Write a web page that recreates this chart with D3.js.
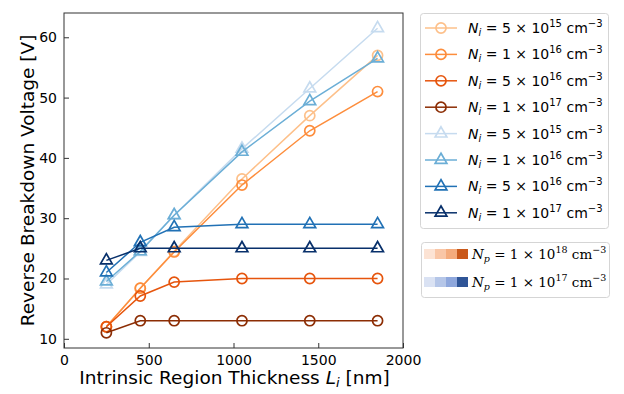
<!DOCTYPE html>
<html>
<head>
<meta charset="utf-8">
<script src="https://cdn.jsdelivr.net/npm/d3@7"></script>
<style>
  body { margin: 0; background: #fff; }
  svg { display: block; }
  .axis text { font-family: "DejaVu Sans", sans-serif; font-size: 14px; fill: #000; }
  .axis path, .axis line { stroke: #333; }
</style>
</head>
<body>
<script>
// data
var thickness = [250, 450, 650, 1050, 1450, 1850];
var niLabels = ["5", "1", "5", "1"];
var niExps = ["15", "16", "16", "17"];
var orangeSeries = [
  [12, 18.4, 24.5, 36.5, 47, 57],
  [12, 18.4, 24.4, 35.5, 44.5, 51],
  [12, 17.1, 19.4, 20, 20, 20],
  [11, 13, 13, 13, 13, 13]
];
var blueSeries = [
  [19, 24.4, 30.5, 41.5, 51.5, 61.5],
  [19.5, 24.5, 30.5, 41, 49.4, 56.5],
  [21, 26, 28.5, 29, 29, 29],
  [23, 25, 25, 25, 25, 25]
];
var orangeColors = ["#fdc08a", "#fd8d3c", "#e6550d", "#8c2d04"];
var blueColors = ["#c6dbef", "#6baed6", "#2171b5", "#08306b"];
var npPatchOrange = ["#fce3d4", "#f9c6a6", "#f4ab7c", "#c9581a"];
var npPatchBlue = ["#dae2f3", "#b5c6e8", "#8ea7dc", "#2f5597"];
var npExps = ["18", "17"];
var xTicks = [0, 500, 1000, 1500, 2000];
var yTicks = [10, 20, 30, 40, 50, 60];

var w = 624, h = 394;
var pLeft = 64, pTop = 13, pRight = 403, pBottom = 348;

var svg = d3.select("body").append("svg")
  .attr("width", w).attr("height", h);

var x = d3.scaleLinear().domain([0, 2000]).range([pLeft, pRight]);
var y = d3.scaleLinear().domain([8.475, 64.025]).range([pBottom, pTop]);

// axes, ticks inward
var xAxis = d3.axisBottom(x).tickValues(xTicks).tickFormat(d3.format("d"))
  .tickSize(-5).tickPadding(7).tickSizeOuter(0);
var yAxis = d3.axisLeft(y).tickValues(yTicks).tickFormat(d3.format("d"))
  .tickSize(-5).tickPadding(7).tickSizeOuter(0);

svg.append("g").attr("class", "axis")
  .attr("transform", "translate(0," + pBottom + ")")
  .call(xAxis)
  .call(function(g) { g.select(".domain").remove(); });
svg.append("g").attr("class", "axis")
  .attr("transform", "translate(" + pLeft + ",0)")
  .call(yAxis)
  .call(function(g) { g.select(".domain").remove(); });

svg.append("rect")
  .attr("x", pLeft).attr("y", pTop)
  .attr("width", pRight - pLeft).attr("height", pBottom - pTop)
  .attr("fill", "none").attr("stroke", "#333").attr("stroke-width", 1);

// axis labels
var xl = svg.append("text")
  .attr("x", (pLeft + pRight) / 2 + 1).attr("y", 384)
  .attr("text-anchor", "middle")
  .attr("font-family", "DejaVu Sans, sans-serif").attr("font-size", 18.5);
xl.append("tspan").text("Intrinsic Region Thickness ");
xl.append("tspan").attr("font-style", "italic").text("L");
xl.append("tspan").attr("font-style", "italic").attr("font-size", 13).attr("dy", 3).text("i");
xl.append("tspan").attr("dy", -3).text(" [nm]");

svg.append("text")
  .attr("transform", "translate(34," + ((pTop + pBottom) / 2) + ") rotate(-90)")
  .attr("text-anchor", "middle")
  .attr("font-family", "DejaVu Sans, sans-serif").attr("font-size", 18.5)
  .text("Reverse Breakdown Voltage [V]");

var line = d3.line()
  .x(function(d, i) { return x(thickness[i]); })
  .y(function(d) { return y(d); });

function drawSeries(vals, color, shape) {
  var g = svg.append("g");
  g.append("path").datum(vals)
    .attr("d", line)
    .attr("fill", "none").attr("stroke", color).attr("stroke-width", 1.5);
  g.selectAll(".m").data(vals).enter().append("path")
    .attr("transform", function(d, i) { return "translate(" + x(thickness[i]) + "," + y(d) + ")"; })
    .attr("d", d3.symbol().type(shape).size(shape === d3.symbolCircle ? 80 : 60))
    .attr("fill", "none").attr("stroke", color).attr("stroke-width", 1.7);
}

orangeSeries.forEach(function(s, i) { drawSeries(s, orangeColors[i], d3.symbolCircle); });
blueSeries.forEach(function(s, i) { drawSeries(s, blueColors[i], d3.symbolTriangle); });

// legend 1
var leg = svg.append("g");
leg.append("rect")
  .attr("x", 420.5).attr("y", 13.5).attr("width", 188).attr("height", 215)
  .attr("rx", 3).attr("fill", "#fff").attr("stroke", "#d5d5d5");

var entries = orangeColors.map(function(c, i) { return { c: c, s: d3.symbolCircle, k: i }; })
  .concat(blueColors.map(function(c, i) { return { c: c, s: d3.symbolTriangle, k: i }; }));

entries.forEach(function(e, i) {
  var cy = 28 + i * 26.4;
  leg.append("line")
    .attr("x1", 425).attr("x2", 457).attr("y1", cy).attr("y2", cy)
    .attr("stroke", e.c).attr("stroke-width", 1.5);
  leg.append("path")
    .attr("transform", "translate(441," + cy + ")")
    .attr("d", d3.symbol().type(e.s).size(e.s === d3.symbolCircle ? 80 : 60))
    .attr("fill", "none").attr("stroke", e.c).attr("stroke-width", 1.7);
  var t = leg.append("text")
    .attr("x", 468).attr("y", cy + 5)
    .attr("font-family", "DejaVu Sans, sans-serif").attr("font-size", 14);
  t.append("tspan").attr("font-style", "italic").text("N");
  t.append("tspan").attr("font-style", "italic").attr("font-size", 10).attr("dy", 3).text("i");
  t.append("tspan").attr("dy", -3).text(" = " + niLabels[e.k] + " \u00d7 10");
  t.append("tspan").attr("font-size", 10).attr("dy", -6).text(niExps[e.k]);
  t.append("tspan").attr("dy", 6).text(" cm");
  t.append("tspan").attr("font-size", 10).attr("dy", -6).text("\u22123");
});

// legend 2
var leg2 = svg.append("g");
leg2.append("rect")
  .attr("x", 421.5).attr("y", 242.5).attr("width", 188).attr("height", 55)
  .attr("rx", 3).attr("fill", "#fff").attr("stroke", "#d5d5d5");

[npPatchOrange, npPatchBlue].forEach(function(cols, r) {
  var cy = 254 + r * 28;
  leg2.selectAll(".p" + r).data(cols).enter().append("rect")
    .attr("x", function(d, i) { return 424 + i * 11; })
    .attr("y", cy - 5).attr("width", 11).attr("height", 10)
    .attr("fill", function(d) { return d; });
  var t = leg2.append("text")
    .attr("x", 472).attr("y", cy + 5)
    .attr("font-family", "DejaVu Serif, serif").attr("font-size", 13.5);
  t.append("tspan").attr("font-style", "italic").text("N");
  t.append("tspan").attr("font-style", "italic").attr("font-size", 9.5).attr("dy", 3).text("p");
  t.append("tspan").attr("dy", -3).text(" = 1 \u00d7 10");
  t.append("tspan").attr("font-size", 9.5).attr("dy", -6).text(npExps[r]);
  t.append("tspan").attr("dy", 6).text(" cm");
  t.append("tspan").attr("font-size", 9.5).attr("dy", -6).text("\u22123");
});
</script>
</body>
</html>
